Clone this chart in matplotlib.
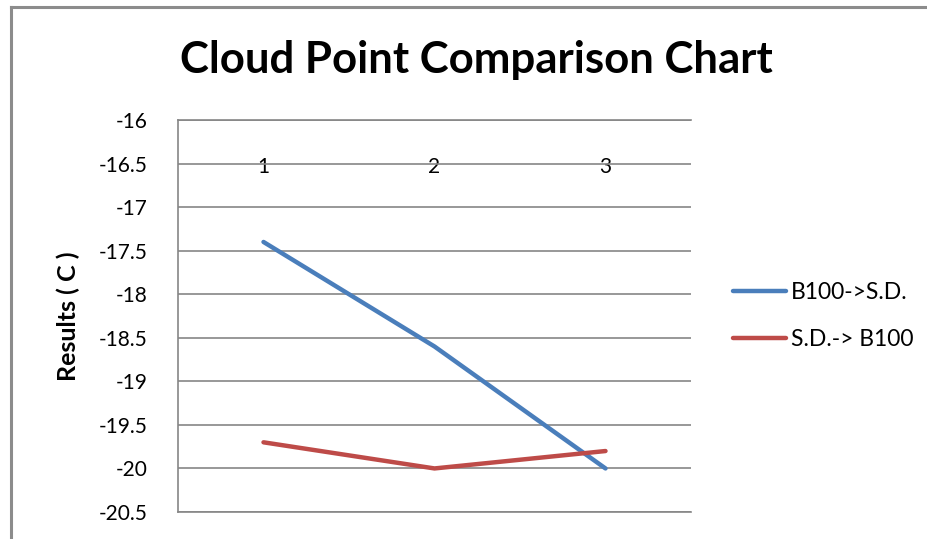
import matplotlib
matplotlib.use("Agg")
import matplotlib.pyplot as plt
from matplotlib.lines import Line2D

# data
categories = [1, 2, 3]
cat_labels = ["1", "2", "3"]
b100_to_sd = [-17.4, -18.6, -20.0]
sd_to_b100 = [-19.7, -20.0, -19.8]
y_ticks = [-16, -16.5, -17, -17.5, -18, -18.5, -19, -19.5, -20, -20.5]

plt.rcParams['font.family'] = ['Lato', 'DejaVu Sans']

fig = plt.figure(figsize=(9.27, 5.39), dpi=100)
ax = fig.add_axes([178 / 927, 1 - 512 / 539, (691 - 178) / 927, (512 - 120) / 539])

grid_col = "#868686"

ax.plot(categories, b100_to_sd, color="#4A7EBB", lw=3.2, solid_capstyle="round",
        label="B100->S.D.", zorder=3)
ax.plot(categories, sd_to_b100, color="#BE4B48", lw=3.2, solid_capstyle="round",
        label="S.D.-> B100", zorder=3)

ax.set_xlim(0.5, 3.5)
ax.set_ylim(-20.5, -16)
ax.set_yticks(y_ticks)
ax.set_yticklabels([f"{v:g}" for v in y_ticks])
ax.yaxis.grid(True, color=grid_col, lw=1.2)
ax.set_axisbelow(True)

ax.set_xticks(categories)
ax.set_xticklabels(cat_labels)
ax.tick_params(axis='x', bottom=False, labelbottom=False, top=False, labeltop=True,
               length=0, pad=-41, labelsize=15)
ax.tick_params(axis='y', length=0, pad=22, labelsize=15)

ax.spines["right"].set_visible(False)
for s in ["left", "top", "bottom"]:
    ax.spines[s].set_color(grid_col)
    ax.spines[s].set_linewidth(1.2)

ax.set_ylabel("Results ( C )", fontsize=18, fontweight="bold", labelpad=13)

fig.suptitle("Cloud Point Comparison Chart", fontsize=31.5, fontweight="bold",
             x=476 / 927, y=1 - 60 / 539, va="center")

ax.legend(loc="center left", bbox_to_anchor=(712 / 927, 1 - 316 / 539),
          bbox_transform=fig.transFigure, frameon=False,
          fontsize=16.5, handlelength=2.35, handletextpad=0.2, labelspacing=1.1)

# outer chart frame (left and top edges visible)
fig.add_artist(Line2D([11 / 927, 11 / 927], [0, 1 - 7 / 539], color="#8c8c8c", lw=2.2))
fig.add_artist(Line2D([11 / 927, 1], [1 - 7 / 539, 1 - 7 / 539], color="#8c8c8c", lw=2.2))

fig.savefig("out.png", dpi=100)
